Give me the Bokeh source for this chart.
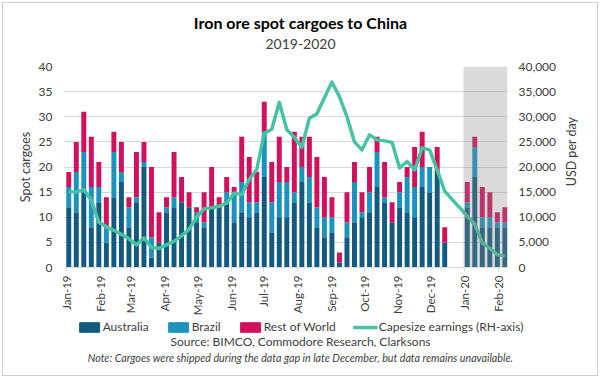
import math
import datetime as dt
from bokeh.plotting import figure
from bokeh.layouts import column, row
from bokeh.core.properties import value
from bokeh.models import (ColumnDataSource, Range1d, LinearAxis, FixedTicker,
                          NumeralTickFormatter, BoxAnnotation, Legend, LegendItem)
from bokeh.embed import file_html
from bokeh.resources import INLINE

# ---------------- data ----------------
# weekly spot cargoes to China (count), 2019 (51 weeks) and 2020 (6 weeks)
aus_2019 = [12, 11, 15, 8, 13, 5, 14, 17, 8, 13, 20, 2, 5, 11, 12, 13, 12, 9, 8, 12,
            12, 13, 9, 11, 10, 11, 18, 7, 10, 10, 13, 17, 13, 8, 6, 7, 1, 6, 9, 10,
            11, 16, 13, 9, 12, 11, 10, 16, 15, 19, 5]
bra_2019 = [4, 8, 8, 8, 3, 3, 9, 2, 4, 1, 1, 4, 0, 1, 2, 0, 0, 2, 1, 0,
            0, 2, 6, 6, 3, 2, 9, 6, 7, 7, 2, 3, 5, 4, 4, 3, 0, 3, 8, 1,
            4, 7, 1, 0, 3, 7, 6, 4, 5, 0, 0]
row_2019 = [3, 6, 8, 10, 5, 6, 4, 6, 2, 9, 4, 14, 6, 2, 9, 5, 3, 1, 6, 8,
            2, 3, 1, 9, 9, 6, 6, 8, 9, 3, 12, 6, 8, 10, 8, 4, 2, 6, 4, 4,
            5, 3, 7, 4, 2, 2, 8, 7, 0, 5, 3]
aus_2020 = [12, 18, 8, 8, 8, 8]
bra_2020 = [1, 6, 2, 2, 1, 1]
row_2020 = [4, 2, 6, 5, 2, 3]
gap_weeks = 2  # late December: no data

# Capesize earnings, USD per day, one value per week slot (incl. the gap)
capesize = [15100, 15000, 15500, 13400, 9000, 8100, 7400, 6600, 5700, 4500,
            5900, 4000, 3800, 4500, 5200, 6300, 7600, 10000, 11700, 11900,
            12200, 12800, 14800, 14500, 17500, 19500, 26700, 27500, 32900, 27400,
            25900, 23900, 29700, 30600, 33800, 36900, 34000, 30000, 25000, 23400,
            26400, 25400, 25200, 24900, 19800, 21100, 19400, 23800, 23400, 19400,
            15200, 13500, 11900, 10200, 8600, 4900, 3800, 2600, 2300]

month_labels = ["Jan-19", "Feb-19", "Mar-19", "Apr-19", "May-19", "Jun-19", "Jul-19",
                "Aug-19", "Sep-19", "Oct-19", "Nov-19", "Dec-19", "Jan-20", "Feb-20"]
series_names = ["Australia", "Brazil", "Rest of World", "Capesize earnings (RH-axis)"]
title_text = "Iron ore spot cargoes to China"
subtitle_text = "2019-2020"
left_axis_title = "Spot cargoes"
right_axis_title = "USD per day"
source_text = "Source: BIMCO, Commodore Research, Clarksons"
note_text = ("Note: Cargoes were shipped during the data gap in late December, "
             "but data remains unavailable.")

# ---------------- positions ----------------
n19 = len(aus_2019)
x19 = list(range(n19))
x20 = [n19 + gap_weeks + i for i in range(len(aus_2020))]
src = ColumnDataSource(dict(
    x=x19 + x20,
    Australia=aus_2019 + aus_2020,
    Brazil=bra_2019 + bra_2020,
    RoW=row_2019 + row_2020,
))
line_src = ColumnDataSource(dict(x=list(range(len(capesize))), y=capesize))

# month ticks from month-start dates (axis scale: one slot ~ 6.9 days)
start = dt.date(2019, 1, 1)
month_dates = [dt.date(2019 + (m // 12), m % 12 + 1, 1) for m in range(len(month_labels))]
slot_days = 6.9
tick_pos = [(d - start).days / slot_days - 0.3 for d in month_dates]

FONT = "Lato"
TXT = "#404040"
colors = ["#135A7E", "#1C93BE", "#D1115E"]
LINE_COL = "#47C3A3"
W = 594          # total content width
WR = 38          # strip holding the right axis title
HP = 260         # chart height


def strip(w, h):
    return figure(width=w, height=h, output_backend="svg", toolbar_location=None,
                  x_range=Range1d(0, w), y_range=Range1d(0, h), x_axis_type=None,
                  y_axis_type=None, title_location=None, min_border=0,
                  outline_line_color=None, border_fill_color="white",
                  background_fill_color="white")


# ---------------- title strip ----------------
HT = 55
top = strip(W, HT)
top.text(x=[W / 2], y=[HT - 19], text=[title_text], text_align="center",
         text_baseline="middle", text_font=value(FONT), text_font_size=value("16px"),
         text_font_style="bold", text_color="#000000")
top.text(x=[W / 2], y=[HT - 40], text=[subtitle_text], text_align="center",
         text_baseline="middle", text_font=value(FONT), text_font_size=value("14px"),
         text_color=TXT)

# ---------------- main chart ----------------
p = figure(width=W - WR, height=HP, output_backend="svg", toolbar_location=None,
           title_location=None,
           x_range=Range1d(-0.70, 58.35), y_range=Range1d(0, 40),
           min_border_left=60, min_border_right=W - WR - 507, min_border_top=8,
           min_border_bottom=50,
           outline_line_color=None, background_fill_color="white", border_fill_color="white")
p.extra_y_ranges = {"usd": Range1d(0, 40000)}

bars = p.vbar_stack(["Australia", "Brazil", "RoW"], x="x", width=0.66, source=src,
                    color=colors, line_color=None)

box = BoxAnnotation(left=x20[0] - 0.5, fill_color="#868686", fill_alpha=0.31,
                    line_color=None, level="glyph")
p.add_layout(box)

ln = p.line("x", "y", source=line_src, y_range_name="usd", line_color=LINE_COL,
            line_width=3.5, line_join="round")

p.yaxis.ticker = FixedTicker(ticks=list(range(0, 41, 5)))
p.yaxis.axis_label = left_axis_title
lax = p.yaxis[0]
lax.axis_line_color = None
lax.major_tick_line_color = None
lax.minor_tick_line_color = None
lax.axis_label_standoff = 3

rax = LinearAxis(y_range_name="usd",
                 ticker=FixedTicker(ticks=list(range(0, 40001, 5000))),
                 formatter=NumeralTickFormatter(format="0,0"))
rax.axis_line_color = None
rax.major_tick_line_color = None
rax.minor_tick_line_color = None
p.add_layout(rax, "right")

xa = p.xaxis[0]
xa.ticker = FixedTicker(ticks=tick_pos)
xa.major_label_overrides = {t: lab for t, lab in zip(tick_pos, month_labels)}
xa.major_label_orientation = math.pi / 2
xa.axis_line_color = "#D9D9D9"
xa.major_tick_line_color = "#D9D9D9"
xa.major_tick_out = 4
xa.major_tick_in = 0
xa.major_label_standoff = 4
xa.minor_tick_line_color = None

for ax in [lax, rax, xa]:
    ax.major_label_text_font = FONT
    ax.major_label_text_font_size = "12px"
    ax.major_label_text_color = TXT
    ax.axis_label_text_font = FONT
    ax.axis_label_text_font_size = "12.5px"
    ax.axis_label_text_font_style = "normal"
    ax.axis_label_text_color = TXT
xa.major_label_text_font_size = "11.5px"

p.xgrid.grid_line_color = None
p.ygrid.grid_line_color = "#D9D9D9"
p.ygrid.ticker = FixedTicker(ticks=list(range(0, 41, 5)))

# right axis title (reads bottom-to-top, like the reference)
rstrip = strip(WR, HP)
rstrip.text(x=[11.5], y=[HP - 110], text=[right_axis_title], angle=math.pi / 2,
            text_align="center", text_baseline="middle", text_font=value(FONT),
            text_font_size=value("12.5px"), text_color=TXT)

# ---------------- legend + source strip ----------------
HL = 57
leg = strip(W, HL)
r_aus = leg.vbar(x=[-1000], top=[0], width=1, color=colors[0])
r_bra = leg.vbar(x=[-1000], top=[0], width=1, color=colors[1])
r_row = leg.vbar(x=[-1000], top=[0], width=1, color=colors[2])
r_ln = leg.line(x=[-1000, -999], y=[0, 0], line_color=LINE_COL, line_width=3.5)
legend = Legend(items=[
    LegendItem(label=series_names[0], renderers=[r_aus]),
    LegendItem(label=series_names[1], renderers=[r_bra]),
    LegendItem(label=series_names[2], renderers=[r_row]),
    LegendItem(label=series_names[3], renderers=[r_ln]),
], orientation="horizontal", location="top_center",
    label_text_font=FONT, label_text_font_size="12px", label_text_color=TXT,
    glyph_width=25, glyph_height=12, label_height=14, spacing=17, padding=0, margin=1,
    label_standoff=1, border_line_color=None, background_fill_alpha=0)
leg.add_layout(legend)

leg.text(x=[W / 2], y=[HL - 23], text=[source_text], text_align="center",
         text_baseline="middle", text_font=value(FONT), text_font_size=value("12px"),
         text_color=TXT)
leg.text(x=[W / 2], y=[HL - 39], text=[note_text], text_align="center",
         text_baseline="middle", text_font=value(FONT), text_font_size=value("10.7px"),
         text_font_style="italic", text_color=TXT)

layout = column(top, row(p, rstrip, spacing=0), leg, spacing=0,
                styles={"border": "1px solid #D0D0D0", "margin": "2px"})

open("out.html", "w").write(file_html(layout, INLINE))
